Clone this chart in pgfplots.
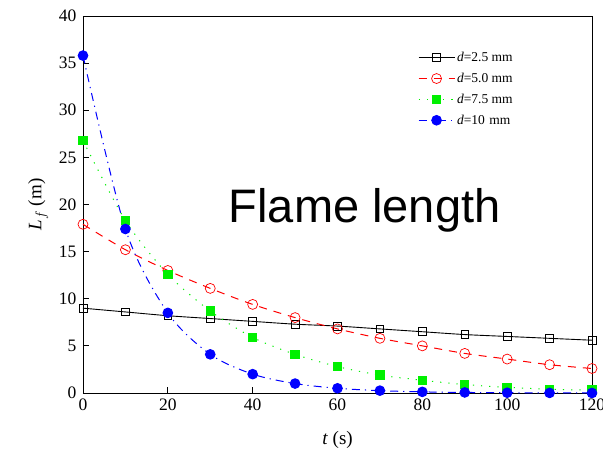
\documentclass[border=0pt]{standalone}
\usepackage{pgfplots}
\pgfplotsset{compat=1.18}
\usepackage{fontspec}
\setmainfont{Liberation Serif}
\newfontfamily\arialfont{Liberation Sans}
\begin{document}
\begin{tikzpicture}
\useasboundingbox (-83pt,-62pt) rectangle (520pt,393pt);
\begin{axis}[
  at={(0pt,0pt)}, anchor=south west,
  scale only axis, width=509pt, height=377pt,
  xmin=0, xmax=120, ymin=0, ymax=40,
  xtick={0,20,...,120}, ytick={0,5,...,40},
  tick align=inside, major tick length=6pt,
  xtick pos=left, ytick pos=left,
  tick style={black, line width=0.8pt},
  axis line style={line width=0.9pt},
  /pgf/number format/assume math mode=true,
  ticklabel style={font=\fontsize{17.5}{20}\selectfont},
  xticklabel style={yshift=-2pt},
  yticklabel style={xshift=-3pt},
  xlabel={\textit{t} (s)}, ylabel={\textit{L}$_{f}$ (m)},
  label style={font=\fontsize{19}{22}\selectfont},
  xlabel style={yshift=-14pt},
  ylabel style={yshift=4pt},
  clip=false,
  legend style={draw=none, fill=none, at={(0.652,0.915)}, anchor=north west,
    font=\fontsize{13.5}{16}\selectfont, row sep=6pt},
  legend cell align=left,
  legend image code/.code={\draw[mark repeat=2,mark phase=2,#1] plot coordinates {(0pt,0pt) (18pt,0pt) (36pt,0pt)};},
  /tikz/every odd column/.append style={xshift=-2pt},
  /tikz/every even column/.append style={xshift=2pt},
]
\addplot[black, line width=0.9pt, smooth, mark=square, mark size=3.9pt, mark options={solid, fill=white, line width=0.7pt}]
  coordinates {(0,9.0)(10,8.6)(20,8.2)(30,7.9)(40,7.6)(50,7.3)(60,7.1)(70,6.8)(80,6.5)(90,6.2)(100,6.0)(110,5.8)(120,5.6)};
\addlegendentry{\textit{d}=2.5 mm}
\addplot[red, line width=1pt, smooth, dash pattern=on 8pt off 7pt, mark=o, mark size=5pt, mark options={solid, fill=white, line width=0.7pt}]
  coordinates {(0,17.9)(10,15.2)(20,13.0)(30,11.1)(40,9.4)(50,8.0)(60,6.8)(70,5.8)(80,5.0)(90,4.2)(100,3.6)(110,3.0)(120,2.6)};
\addlegendentry{\textit{d}=5.0 mm}
\addplot[color={rgb,255:red,0;green,240;blue,0}, line width=1pt, smooth, dash pattern=on 1.2pt off 7pt, mark=square*, mark size=4.2pt, mark options={solid}]
  coordinates {(0,26.8)(10,18.3)(20,12.6)(30,8.7)(40,5.9)(50,4.1)(60,2.8)(70,1.9)(80,1.35)(90,0.9)(100,0.6)(110,0.4)(120,0.3)};
\addlegendentry{\textit{d}=7.5 mm}
\addplot[blue, line width=1pt, smooth, dash pattern=on 8pt off 5pt on 1.2pt off 5pt, mark=*, mark size=4.8pt, mark options={solid}]
  coordinates {(0,35.8)(10,17.4)(20,8.5)(30,4.1)(40,2.0)(50,1.0)(60,0.5)(70,0.25)(80,0.12)(90,0.06)(100,0.03)(110,0.01)(120,0.0)};
\addlegendentry{\textit{d}=10\,\,mm}
\node[font=\arialfont\fontsize{47}{50}\selectfont] at (axis cs:66.4,19.4) {Flame length};
\end{axis}
\end{tikzpicture}
\end{document}
